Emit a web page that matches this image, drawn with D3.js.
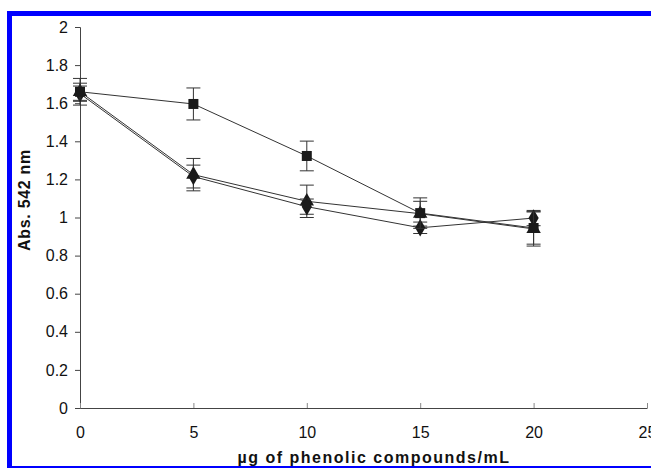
<!DOCTYPE html>
<html>
<head>
<meta charset="utf-8">
<script src="https://cdn.jsdelivr.net/npm/d3@7"></script>
<style>
  body { margin: 0; background: #fff; }
  text { font-family: "Liberation Sans", Arial, sans-serif; }
</style>
</head>
<body>
<svg id="chart" width="651" height="469"></svg>
<script>
const doses = [0, 5, 10, 15, 20];

// three extracts, one value per dose
const squareVals = [1.66, 1.596, 1.323, 1.023, 0.945];
const squareErr = [0.07, 0.084, 0.078, 0.08, 0.085];
const triangleVals = [1.66, 1.225, 1.085, 1.02, 0.94];
const triangleErr = [0.045, 0.085, 0.085, 0.065, 0.09];
const diamondVals = [1.65, 1.215, 1.057, 0.946, 0.997];
const diamondErr = [0.04, 0.06, 0.04, 0.03, 0.04];

const xTicks = [0, 5, 10, 15, 20, 25];
const yTicks = [0, 0.2, 0.4, 0.6, 0.8, 1, 1.2, 1.4, 1.6, 1.8, 2];

const svg = d3.select('#chart');

// blue frame
svg.append('rect').attr('x', 7).attr('y', 11).attr('width', 660).attr('height', 5).attr('fill', '#0000ff');
svg.append('rect').attr('x', 7).attr('y', 11).attr('width', 5).attr('height', 457).attr('fill', '#0000ff');
svg.append('rect').attr('x', 7).attr('y', 466).attr('width', 660).attr('height', 2).attr('fill', '#0000ff');

const x = d3.scaleLinear().domain([0, 25]).range([80, 647]);
const y = d3.scaleLinear().domain([0, 2]).range([408, 27]);

const axisColor = '#444';

const yAxis = svg.append('g')
  .attr('transform', `translate(${x(0)},0)`)
  .call(d3.axisLeft(y).tickValues(yTicks).tickSize(5).tickPadding(7)
    .tickFormat(d => d3.format('~g')(d)));
yAxis.select('.domain').attr('stroke', axisColor);
yAxis.selectAll('line').attr('stroke', axisColor);
yAxis.selectAll('text').attr('font-size', 16).attr('fill', '#111');

const xAxis = svg.append('g')
  .attr('transform', `translate(0,${y(0)})`)
  .call(d3.axisBottom(x).tickValues(xTicks).tickSizeInner(-5).tickSizeOuter(0).tickPadding(19));
xAxis.select('.domain').attr('stroke', axisColor);
xAxis.selectAll('line').attr('stroke', '#888');
xAxis.selectAll('text').attr('font-size', 16).attr('fill', '#111');

// axis titles
svg.append('text')
  .attr('x', 374).attr('y', 463)
  .attr('text-anchor', 'middle')
  .attr('font-size', 16).attr('font-weight', 'bold').attr('fill', '#111')
  .attr('letter-spacing', 1.5)
  .text('µg of phenolic compounds/mL');

svg.append('text')
  .attr('transform', 'translate(30,200) rotate(-90)')
  .attr('text-anchor', 'middle')
  .attr('font-size', 16).attr('font-weight', 'bold').attr('fill', '#111')
  .attr('letter-spacing', 0.7)
  .text('Abs. 542 nm');

const series = [
  { vals: triangleVals, err: triangleErr, shape: d3.symbolTriangle, size: 90 },
  { vals: diamondVals, err: diamondErr, shape: d3.symbolDiamond, size: 90 },
  { vals: squareVals, err: squareErr, shape: d3.symbolSquare, size: 100 },
];

const line = d3.line().x(d => x(d.dose)).y(d => y(d.v));

series.forEach(s => {
  const data = doses.map((dose, i) => ({ dose, v: s.vals[i], e: s.err[i] }));

  svg.append('path')
    .datum(data)
    .attr('d', line)
    .attr('fill', 'none')
    .attr('stroke', '#333')
    .attr('stroke-width', 1);

  const eb = svg.append('g').selectAll('g').data(data).join('g');
  eb.append('line')
    .attr('x1', d => x(d.dose)).attr('x2', d => x(d.dose))
    .attr('y1', d => y(d.v + d.e)).attr('y2', d => y(d.v - d.e))
    .attr('stroke', '#333').attr('stroke-width', 1);
  [1, -1].forEach(sign => {
    eb.append('line')
      .attr('x1', d => x(d.dose) - 7).attr('x2', d => x(d.dose) + 7)
      .attr('y1', d => y(d.v + sign * d.e)).attr('y2', d => y(d.v + sign * d.e))
      .attr('stroke', '#333').attr('stroke-width', 1);
  });

  svg.append('g').selectAll('path').data(data).join('path')
    .attr('transform', d => `translate(${x(d.dose)},${y(d.v)})`)
    .attr('d', d3.symbol().type(s.shape).size(s.size))
    .attr('fill', '#1a1a1a');
});
</script>
</body>
</html>
